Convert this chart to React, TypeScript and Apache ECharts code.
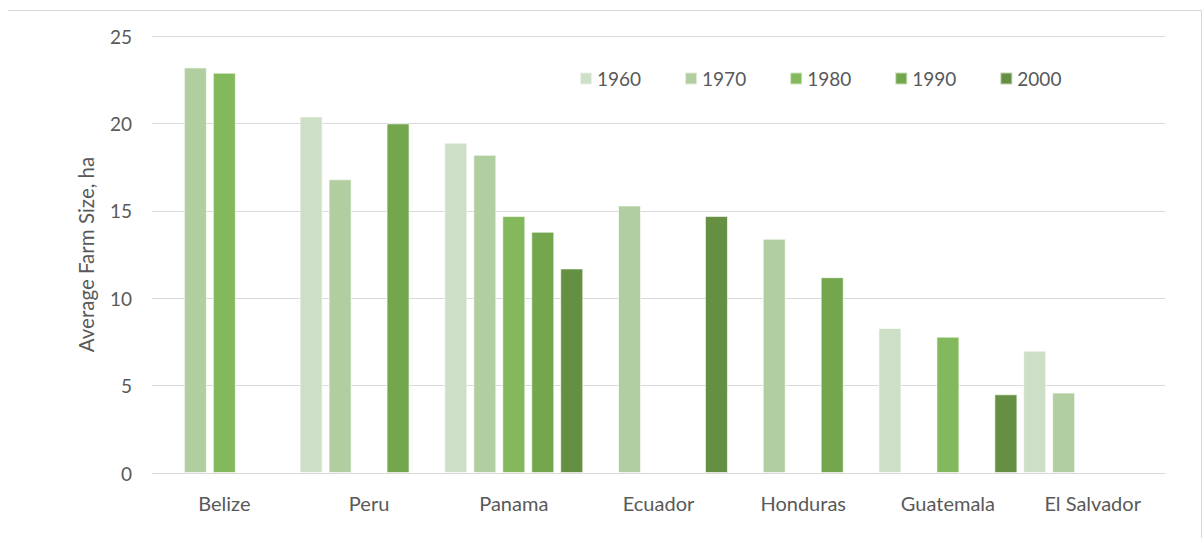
import React, { useEffect, useRef } from "react";
import * as echarts from "echarts";

const countries = ["Belize", "Peru", "Panama", "Ecuador", "Honduras", "Guatemala", "El Salvador"];
const years = ["1960", "1970", "1980", "1990", "2000"];
const colors = ["#cddfc6", "#b1cea0", "#83b95c", "#73a64d", "#658f43"];

const v1960 = [null, 20.4, 18.9, null, null, 8.3, 7.0];
const v1970 = [23.2, 16.8, 18.2, 15.3, 13.4, null, 4.6];
const v1980 = [22.9, null, 14.7, null, null, 7.8, null];
const v1990 = [null, 20.0, 13.8, null, 11.2, null, null];
const v2000 = [null, null, 11.7, 14.7, null, 4.5, null];
const seriesValues = [v1960, v1970, v1980, v1990, v2000];

const yTicks = { min: 0, max: 25, interval: 5 };

const FONT = "Lato, 'Open Sans', sans-serif";
const TXT = "#595959";

export default function App() {
  const ref = useRef<HTMLDivElement>(null);
  useEffect(() => {
    if (!ref.current) return;
    const chart = echarts.init(ref.current, null, { renderer: "svg" });
    chart.setOption({
      animation: false,
      backgroundColor: "#ffffff",
      textStyle: { fontFamily: FONT },
      graphic: [
        { type: "line", shape: { x1: 8, y1: 10.5, x2: 1202, y2: 10.5 }, style: { stroke: "#d9d9d9", lineWidth: 1 } },
        { type: "line", shape: { x1: 1201.5, y1: 10, x2: 1201.5, y2: 538 }, style: { stroke: "#d9d9d9", lineWidth: 1 } },
      ],
      legend: {
        data: years,
        left: 574,
        top: 64,
        itemWidth: 12,
        itemHeight: 12,
        itemGap: 43,
        icon: "rect",
        textStyle: { color: TXT, fontSize: 19, fontFamily: FONT },
      },
      grid: { left: 152, right: 39, top: 36, bottom: 65, containLabel: false },
      xAxis: {
        type: "category",
        data: countries,
        axisLine: { lineStyle: { color: "#d9d9d9" } },
        axisTick: { show: false },
        axisLabel: { color: TXT, fontSize: 20, margin: 20, fontFamily: FONT },
      },
      yAxis: {
        type: "value",
        min: yTicks.min,
        max: yTicks.max,
        interval: yTicks.interval,
        name: "Average Farm Size, ha",
        nameLocation: "middle",
        nameGap: 56,
        nameRotate: 90,
        nameTextStyle: { color: TXT, fontSize: 20.5, fontFamily: FONT },
        axisLine: { show: false },
        axisTick: { show: false },
        splitLine: { lineStyle: { color: "#d9d9d9" } },
        axisLabel: { color: TXT, fontSize: 19, margin: 20, fontFamily: FONT },
      },
      series: years.map((y, i) => ({
        name: y,
        type: "bar",
        data: seriesValues[i],
        barGap: "26%",
        barCategoryGap: "4%",
        itemStyle: { color: colors[i], borderColor: "rgba(255,255,255,0.6)", borderWidth: 1 },
      })),
    });
    return () => chart.dispose();
  }, []);
  return <div ref={ref} style={{ position: "fixed", left: 0, top: 0, width: 1204, height: 538 }} />;
}
